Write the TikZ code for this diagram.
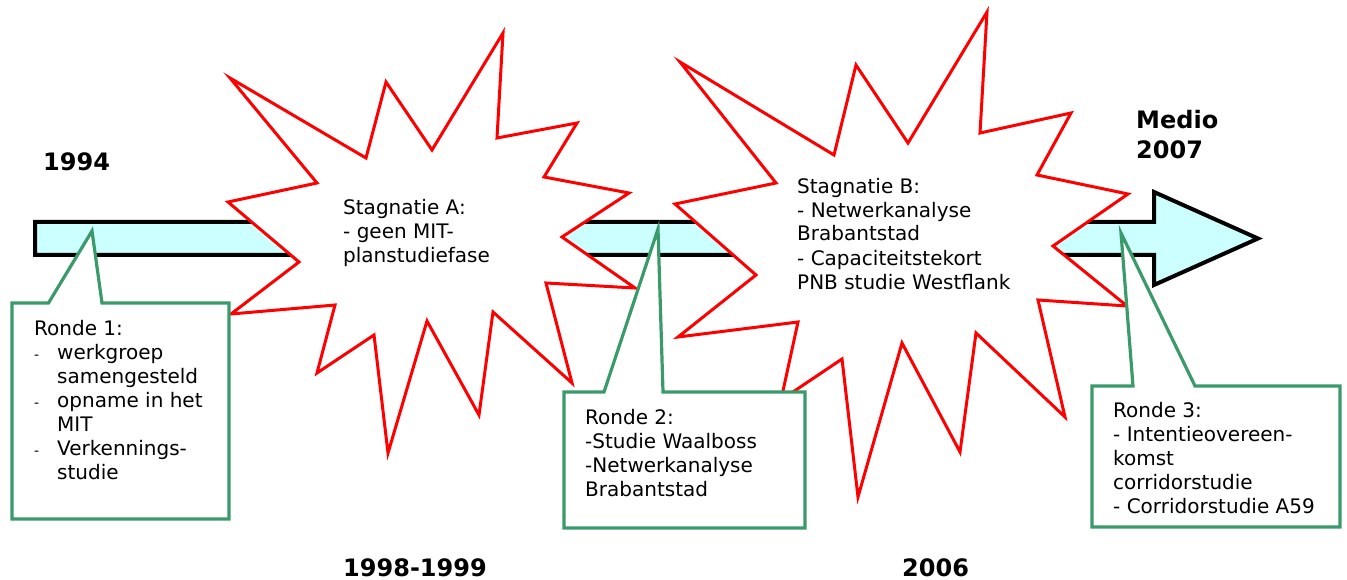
\documentclass[tikz,border=0pt]{standalone}
\usepackage{fontspec}
\setmainfont{DejaVu Sans}
\definecolor{burstred}{RGB}{255,0,0}
\definecolor{calloutgreen}{RGB}{58,154,106}
\definecolor{shaftcyan}{RGB}{204,255,255}
\begin{document}
\begin{tikzpicture}[x=1pt,y=-1pt,line join=miter,miter limit=20,
  timeline/.style={draw=black,line width=4pt,fill=shaftcyan},
  burst/.style={draw=burstred,line width=3pt,fill=white},
  callout/.style={draw=calloutgreen,line width=3.2pt,fill=white},
  % multi-line nodes sit on the baseline of their last line
  txt/.style={anchor=base west,inner sep=0pt,align=left,
    font=\fontsize{20}{24}\selectfont},
  yearlabel/.style={anchor=base west,inner sep=0pt,align=left,
    font=\fontsize{24}{30}\selectfont\bfseries}]
\useasboundingbox (0,0) rectangle (1347,580);

% time line arrow
\draw[timeline] (35,222) -- (1154,222) -- (1154,192) -- (1258,238.5)
  -- (1154,285) -- (1154,255) -- (35,255) -- cycle;

% stagnation bursts
\draw[burst] (230,78) -- (366,158) -- (386,82) -- (432,150) -- (503,33)
  -- (497,138) -- (577,123) -- (544,177) -- (629,193) -- (562,237)
  -- (635,288) -- (546,283) -- (572,383) -- (493,312) -- (479,415)
  -- (427,321) -- (388,453) -- (374,335) -- (317,373) -- (335,305)
  -- (231,314) -- (299,262) -- (228,202) -- (317,183) -- cycle;
\draw[burst] (680,62) -- (834,155) -- (856,65) -- (908,143) -- (987,12)
  -- (980,133) -- (1071,113) -- (1037,175) -- (1128,194) -- (1053,246)
  -- (1127,306) -- (1038,300) -- (1065,417) -- (976,333) -- (960,452)
  -- (902,343) -- (858,497) -- (842,359) -- (781,400) -- (798,322)
  -- (678,337) -- (756,275) -- (675,204) -- (776,183) -- cycle;

% callouts
\draw[callout] (12,303) -- (48.5,303) -- (92,231) -- (102,303) -- (229,303)
  -- (229,519) -- (12,519) -- cycle;
\draw[callout] (564,392) -- (604,392) -- (658,229) -- (663,392) -- (805,392)
  -- (805,528) -- (564,528) -- cycle;
\draw[callout] (1092,386) -- (1133,386) -- (1121,233) -- (1195,386)
  -- (1340,386) -- (1340,527) -- (1092,527) -- cycle;

% texts
\node[txt] (stagA) at (343,262) {Stagnatie A:\\- geen MIT-\\planstudiefase};
\node[txt] (stagB) at (797,289) {Stagnatie B:\\- Netwerkanalyse\\Brabantstad\\- Capaciteitstekort\\PNB studie Westflank};
\node[txt] (ronde1) at (34,479) {Ronde 1:\\
  \makebox[23pt][l]{\fontsize{14}{14}\selectfont -}werkgroep\\
  \hspace*{23pt}samengesteld\\
  \makebox[23pt][l]{\fontsize{14}{14}\selectfont -}opname in het\\
  \hspace*{23pt}MIT\\
  \makebox[23pt][l]{\fontsize{14}{14}\selectfont -}Verkennings-\\
  \hspace*{23pt}studie};
\node[txt] (ronde2) at (585,496) {Ronde 2:\\-Studie Waalboss\\-Netwerkanalyse\\Brabantstad};
\node[txt] (ronde3) at (1113,513) {Ronde 3:\\- Intentieovereen-\\komst\\corridorstudie\\- Corridorstudie A59};

% years
\node[yearlabel] (y1994) at (43,171) {1994};
\node[yearlabel] (y1998) at (343,576) {1998-1999};
\node[yearlabel] (y2006) at (902,576) {2006};
\node[yearlabel] (y2007) at (1136,159) {Medio\\2007};
\end{tikzpicture}
\end{document}
